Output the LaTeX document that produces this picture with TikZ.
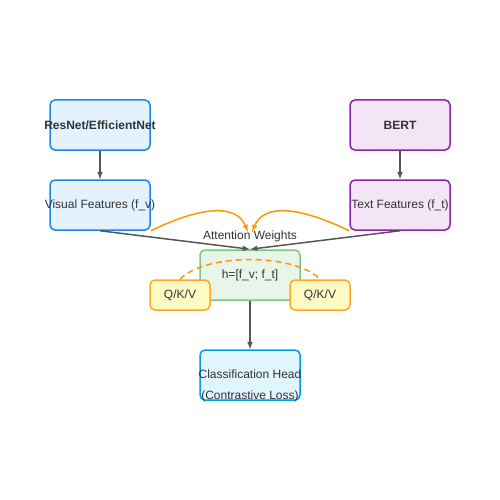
\documentclass[tikz,border=0pt]{standalone}
\usepackage{fontspec}
\setmainfont{Liberation Sans}
\usetikzlibrary{arrows}
\definecolor{inkgray}{HTML}{333333}
\definecolor{linegray}{HTML}{555555}
\definecolor{visfill}{HTML}{E3F2FD}
\definecolor{visdraw}{HTML}{1E88E5}
\definecolor{txtfill}{HTML}{F3E5F5}
\definecolor{txtdraw}{HTML}{8E24AA}
\definecolor{fusefill}{HTML}{E8F5E9}
\definecolor{fusedraw}{HTML}{81C784}
\definecolor{qkvfill}{HTML}{FFF9C4}
\definecolor{qkvdraw}{HTML}{FFA726}
\definecolor{headfill}{HTML}{E1F5FE}
\definecolor{headdraw}{HTML}{039BE5}
\definecolor{attnorange}{HTML}{FF9800}
\tikzset{
every box/.style={ % Common look of all boxes
draw,
rounded corners=5pt,
line width=1.5pt,
minimum width=100pt,
minimum height=50pt,
inner sep=0pt,
text=inkgray,
font=\fontsize{12}{14}\selectfont},
visual box/.style={every box, fill=visfill, draw=visdraw},
text box/.style={every box, fill=txtfill, draw=txtdraw},
fusion box/.style={every box, fill=fusefill, draw=fusedraw},
qkv box/.style={every box, fill=qkvfill, draw=qkvdraw,
minimum width=60pt, minimum height=30pt},
head box/.style={every box, fill=headfill, draw=headdraw},
flow/.style={ % Gray arrows between boxes
draw=linegray,
line width=1.5pt,
-latex},
attention/.style={ % Orange attention curves
draw=attnorange,
line width=1.5pt,
-latex}}

\begin{document}
\begin{tikzpicture}[x=1pt, y=-1pt]
	\useasboundingbox (0,0) rectangle (500,500);
	\node[visual box, font=\fontsize{12}{14}\selectfont\bfseries] (resnet) at (100,125) {\makebox[0pt]{ResNet/EfficientNet}};
	\node[visual box] (visual) at (100,205) {\makebox[0pt]{Visual Features (f\_v)}};
	\node[text box, font=\fontsize{12}{14}\selectfont\bfseries] (bert) at (400,125) {BERT};
	\node[text box] (textf) at (400,205) {\makebox[0pt]{Text Features (f\_t)}};
	\node[fusion box] (fusion) at (250,275) {h=[f\_v; f\_t]};
	\node[qkv box] (qkvl) at (180,295) {Q/K/V};
	\node[qkv box] (qkvr) at (320,295) {Q/K/V};
	\node[head box] (head) at (250,375) {};
	\node[text=inkgray, font=\fontsize{12}{14}\selectfont, align=center] (headtext) at (250,386)
		{Classification Head\\[6.5pt](Contrastive Loss)};
	\node[text=inkgray, font=\fontsize{12}{14}\selectfont] (weights) at (250,236) {Attention Weights};
	\coordinate (attnl) at (248,232);
	\coordinate (attnr) at (252,232);
	% encoders to features
	\draw[flow] (resnet) -- (visual);
	\draw[flow] (bert) -- (textf);
	% features into the fused vector
	\draw[flow] (visual.south) -- (fusion.north);
	\draw[flow] (textf.south) -- (fusion.north);
	\draw[flow] (fusion) -- (head);
	% cross attention
	\draw[attention] (visual.south east) .. controls (200,207) and (236,203) .. (attnl);
	\draw[attention] (textf.south west) .. controls (300,207) and (264,203) .. (attnr);
	\draw[draw=attnorange, line width=1.5pt, dash pattern=on 6pt off 4pt]
		(qkvl.north) .. controls (205,253) and (295,253) .. (qkvr.north);
\end{tikzpicture}
\end{document}
